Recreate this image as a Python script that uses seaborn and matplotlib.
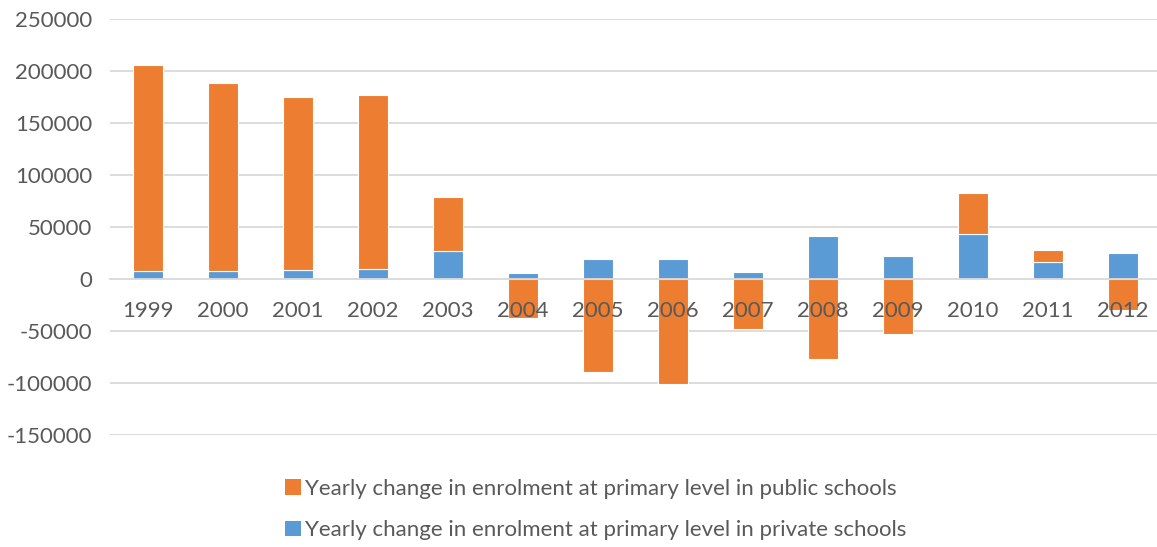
import matplotlib
matplotlib.use("Agg")
import matplotlib.pyplot as plt
from matplotlib.patches import Patch
import numpy as np
import pandas as pd
import seaborn as sns

# Yearly change in primary enrolment
years = ["1999", "2000", "2001", "2002", "2003", "2004", "2005",
         "2006", "2007", "2008", "2009", "2010", "2011", "2012"]
private_change = [7500, 7500, 8600, 9600, 26500, 5400, 19200,
                  19500, 6400, 41300, 21700, 42800, 16300, 24600]
public_change = [198500, 180700, 166500, 167000, 52200, -37600, -89200,
                 -100600, -48400, -77100, -52500, 39800, 11800, -29600]

public_label = "Yearly change in enrolment at primary level in public schools"
private_label = "Yearly change in enrolment at primary level in private schools"
y_ticks = [-150000, -100000, -50000, 0, 50000, 100000, 150000, 200000, 250000]

ORANGE = "#ED7D31"
BLUE = "#5B9BD5"
GRID = "#D9D9D9"
TEXT = "#595959"

sns.set_theme(style="white")
plt.rcParams["font.family"] = ["Lato", "DejaVu Sans"]

df = pd.DataFrame({"year": years, "private": private_change, "public": public_change})
# public stacks on top of private when both are positive, otherwise hangs from zero
public_bottom = np.where(df["public"] > 0, df["private"], 0)

fig = plt.figure(figsize=(11.57, 5.47), dpi=100)
ax = fig.add_axes([0.0955, 0.2048, 0.9075, 0.7605])

sns.barplot(data=df, x="year", y="private", color=BLUE, width=0.39,
            saturation=1, edgecolor="white", linewidth=0.8, ax=ax, zorder=2)
sns.barplot(data=df, x="year", y="public", color=ORANGE, width=0.39,
            saturation=1, edgecolor="white", linewidth=0.8, ax=ax,
            bottom=public_bottom, zorder=2)

ax.set_ylim(-150000, 250000)
ax.set_xlim(-0.5, len(years) - 0.5)
ax.set_yticks(y_ticks)
ax.set_yticklabels([str(t) for t in y_ticks])
for t in y_ticks:
    if t != 0:
        ax.axhline(t, color=GRID, linewidth=1.3, zorder=0)

ax.set_axisbelow(False)
for side in ["top", "right", "left"]:
    ax.spines[side].set_visible(False)
ax.spines["bottom"].set_position(("data", 0))
ax.spines["bottom"].set_color(GRID)
ax.spines["bottom"].set_linewidth(1.3)
ax.spines["bottom"].set_zorder(3)

ax.set_xlabel("")
ax.set_ylabel("")
ax.tick_params(axis="y", length=0, pad=13, labelsize=16, labelcolor=TEXT)
ax.tick_params(axis="x", length=0, pad=16, labelsize=16, labelcolor=TEXT)
for lbl in ax.get_xticklabels():
    lbl.set_zorder(5)

handles = [Patch(facecolor=ORANGE, edgecolor="none", label=public_label),
           Patch(facecolor=BLUE, edgecolor="none", label=private_label)]
fig.legend(handles=handles, loc="center", bbox_to_anchor=(596 / 1157, 1 - 509.5 / 547),
           frameon=False, fontsize=16, labelcolor=TEXT, handlelength=0.7,
           handleheight=0.7, handletextpad=0.2, labelspacing=0.97)

fig.savefig("out.png", dpi=100)
